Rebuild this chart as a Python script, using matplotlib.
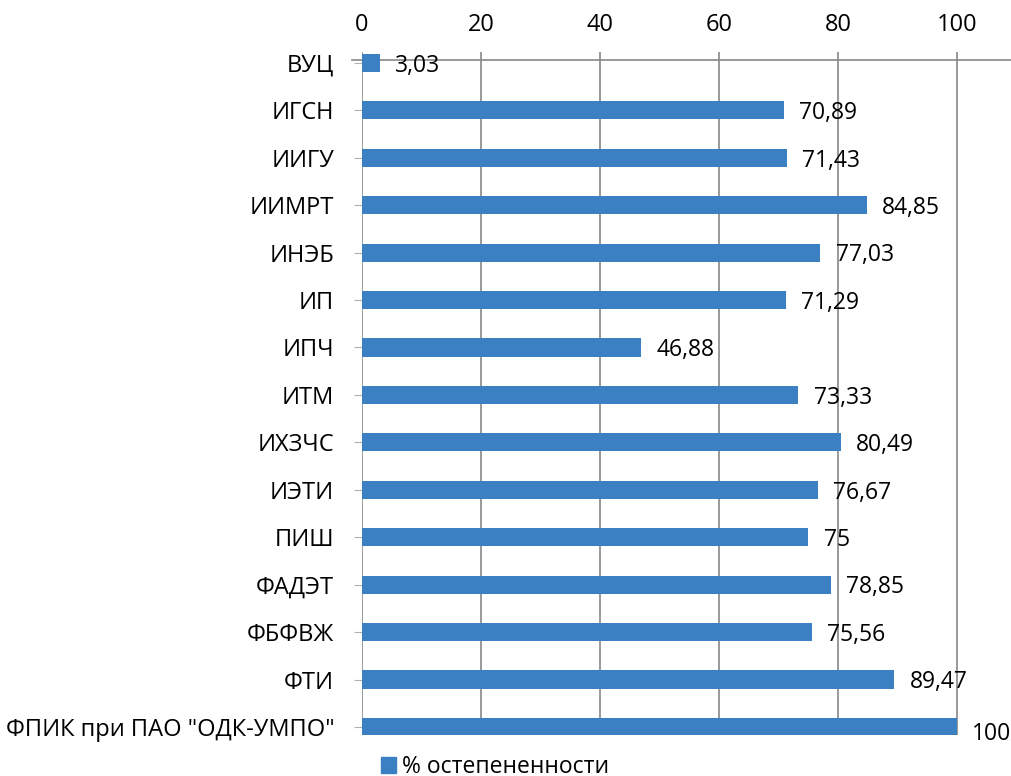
import numpy as np
import matplotlib.pyplot as plt
from matplotlib.patches import Patch

plt.rcParams['font.family'] = ['Open Sans', 'DejaVu Sans']

categories = ['ВУЦ', 'ИГСН', 'ИИГУ', 'ИИМРТ', 'ИНЭБ', 'ИП', 'ИПЧ', 'ИТМ', 'ИХЗЧС',
              'ИЭТИ', 'ПИШ', 'ФАДЭТ', 'ФБФВЖ', 'ФТИ', 'ФПИК при ПАО "ОДК-УМПО"']
values = [3.03, 70.89, 71.43, 84.85, 77.03, 71.29, 46.88, 73.33, 80.49,
          76.67, 75, 78.85, 75.56, 89.47, 100]
xticks = [0, 20, 40, 60, 80, 100]
series_name = '% остепененности'

bar_color = '#3a80c3'
grid_color = '#888888'

fig = plt.figure(figsize=(10.11, 7.76), dpi=100)
ax = fig.add_axes([362/1011, 41/776, (1011-362)/1011, 683/776])

y = np.arange(len(categories))
ax.barh(y, values, height=0.38, color=bar_color, zorder=3)

ax.set_xlim(0, 100 * (1011-362) / (957-362))
ax.set_ylim(len(categories) - 1 + 0.17, -0.23)

ax.xaxis.tick_top()
ax.set_xticks(xticks)
ax.set_xticklabels([str(t) for t in xticks], fontsize=17)
ax.tick_params(axis='x', length=0, pad=11)
ax.grid(axis='x', color=grid_color, lw=1.2, zorder=1)

ax.set_yticks(y)
ax.set_yticklabels(categories, fontsize=17)
ax.tick_params(axis='y', length=6, color='#b0b0b0', pad=14)

for s in ax.spines.values():
    s.set_visible(False)

# horizontal axis line near the top
ax.axhline(-0.07, xmin=-10/649, xmax=1, color=grid_color, lw=1.2, zorder=2, clip_on=False)

for yi, v in zip(y, values):
    lab = f'{v:g}'.replace('.', ',')
    dy = -5 if v == 100 else -2
    ax.annotate(lab, (v, yi), xytext=(11, dy), textcoords='offset points',
                va='center', ha='left', fontsize=16.5, zorder=4)

fig.legend(handles=[Patch(color=bar_color)], labels=[series_name],
           loc='center left', bbox_to_anchor=(360/1011, 9/776), frameon=False,
           fontsize=16.5, handlelength=0.65, handleheight=0.65, handletextpad=0.3)

fig.savefig('out.png', dpi=100)
